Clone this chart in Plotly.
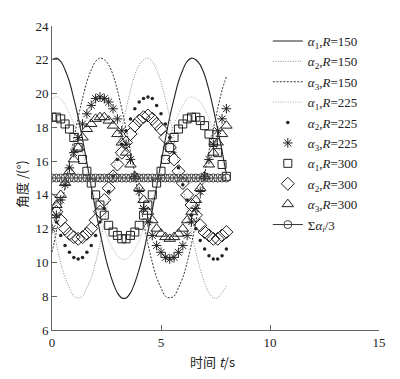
import plotly.graph_objects as go

t = [0.0, 0.2, 0.4, 0.6, 0.8, 1.0, 1.2, 1.4, 1.6, 1.8, 2.0, 2.2, 2.4, 2.6, 2.8, 3.0,
     3.2, 3.4, 3.6, 3.8, 4.0, 4.2, 4.4, 4.6, 4.8, 5.0, 5.2, 5.4, 5.6, 5.8, 6.0, 6.2,
     6.4, 6.6, 6.8, 7.0, 7.2, 7.4, 7.6, 7.8, 8.0]

a1_150 = [22.0, 22.1, 21.9, 21.4, 20.7, 19.7, 18.6, 17.3, 15.9, 14.5, 13.1, 11.8, 10.6, 9.6,
          8.8, 8.2, 7.9, 7.9, 8.2, 8.8, 9.6, 10.6, 11.8, 13.1, 14.5, 15.9, 17.3, 18.6, 19.7,
          20.7, 21.4, 21.9, 22.1, 22.0, 21.7, 21.1, 20.2, 19.1, 17.9, 16.6, 15.2]
a2_150 = [12.4, 11.1, 10.0, 9.1, 8.5, 8.0, 7.9, 8.0, 8.5, 9.1, 10.0, 11.1, 12.4, 13.8, 15.2,
          16.6, 17.9, 19.1, 20.2, 21.1, 21.7, 22.0, 22.1, 21.9, 21.4, 20.7, 19.7, 18.6, 17.3,
          15.9, 14.5, 13.1, 11.8, 10.6, 9.6, 8.8, 8.2, 7.9, 7.9, 8.2, 8.6]
a3_150 = [10.6, 11.8, 13.1, 14.5, 15.9, 17.3, 18.6, 19.7, 20.7, 21.4, 21.9, 22.1, 22.0, 21.7,
          21.1, 20.2, 19.1, 17.9, 16.6, 15.2, 13.8, 12.4, 11.1, 10.0, 9.1, 8.5, 8.0, 7.9, 8.0,
          8.5, 9.1, 10.0, 11.1, 12.4, 13.8, 15.2, 16.6, 17.9, 19.1, 20.2, 21.0]
a1_225 = [19.7, 19.8, 19.7, 19.3, 18.8, 18.2, 17.4, 16.5, 15.6, 14.6, 13.7, 12.8, 12.0, 11.3,
          10.8, 10.4, 10.2, 10.2, 10.4, 10.8, 11.3, 12.0, 12.8, 13.7, 14.6, 15.6, 16.5, 17.4,
          18.2, 18.8, 19.3, 19.7, 19.8, 19.7, 19.5, 19.1, 18.5, 17.8, 17.0, 16.1, 15.1]
a2_225 = [13.2, 12.4, 11.6, 11.0, 10.6, 10.3, 10.2, 10.3, 10.6, 11.0, 11.6, 12.4, 13.2, 14.2,
          15.1, 16.1, 17.0, 17.8, 18.5, 19.1, 19.5, 19.7, 19.8, 19.7, 19.3, 18.8, 18.2, 17.4,
          16.5, 15.6, 14.6, 13.7, 12.8, 12.0, 11.3, 10.8, 10.4, 10.2, 10.2, 10.4, 10.8]
a3_225 = [12.0, 12.8, 13.7, 14.6, 15.6, 16.5, 17.4, 18.2, 18.8, 19.3, 19.7, 19.8, 19.7, 19.5,
          19.1, 18.5, 17.8, 17.0, 16.1, 15.1, 14.2, 13.2, 12.4, 11.6, 11.0, 10.6, 10.3, 10.2,
          10.3, 10.6, 11.0, 11.6, 12.4, 13.2, 14.2, 15.1, 16.1, 17.0, 17.8, 18.5, 19.1]
a1_300 = [18.6, 18.6, 18.5, 18.2, 17.9, 17.4, 16.8, 16.1, 15.4, 14.7, 14.0, 13.4, 12.8, 12.2,
          11.8, 11.6, 11.4, 11.4, 11.6, 11.8, 12.2, 12.8, 13.4, 14.0, 14.7, 15.4, 16.1, 16.8,
          17.4, 17.9, 18.2, 18.5, 18.6, 18.6, 18.4, 18.1, 17.6, 17.1, 16.5, 15.8, 15.1]
a2_300 = [13.7, 13.0, 12.5, 12.0, 11.7, 11.5, 11.4, 11.5, 11.7, 12.0, 12.5, 13.0, 13.7, 14.4,
          15.1, 15.8, 16.5, 17.1, 17.6, 18.1, 18.4, 18.6, 18.7, 18.5, 18.2, 17.9, 17.4, 16.8,
          16.1, 15.4, 14.7, 14.0, 13.4, 12.8, 12.2, 11.8, 11.6, 11.4, 11.4, 11.6, 11.8]
a3_300 = [12.8, 13.4, 14.0, 14.7, 15.4, 16.1, 16.8, 17.4, 17.9, 18.2, 18.5, 18.6, 18.6, 18.4,
          18.1, 17.6, 17.1, 16.5, 15.8, 15.1, 14.4, 13.7, 13.0, 12.5, 12.0, 11.7, 11.5, 11.4,
          11.5, 11.7, 12.0, 12.5, 13.0, 13.7, 14.4, 15.1, 15.8, 16.5, 17.1, 17.6, 18.1]
mean_a = [15.0, 15.0, 15.0, 15.0, 15.0, 15.0, 15.0, 15.0, 15.0, 15.0, 15.0, 15.0, 15.0, 15.0,
          15.0, 15.0, 15.0, 15.0, 15.0, 15.0, 15.0, 15.0, 15.0, 15.0, 15.0, 15.0, 15.0, 15.0,
          15.0, 15.0, 15.0, 15.0, 15.0, 15.0, 15.0, 15.0, 15.0, 15.0, 15.0, 15.0, 15.0]

names = [
    "<i>α</i><sub>1</sub>,<i>R</i>=150",
    "<i>α</i><sub>2</sub>,<i>R</i>=150",
    "<i>α</i><sub>3</sub>,<i>R</i>=150",
    "<i>α</i><sub>1</sub>,<i>R</i>=225",
    "<i>α</i><sub>2</sub>,<i>R</i>=225",
    "<i>α</i><sub>3</sub>,<i>R</i>=225",
    "<i>α</i><sub>1</sub>,<i>R</i>=300",
    "<i>α</i><sub>2</sub>,<i>R</i>=300",
    "<i>α</i><sub>3</sub>,<i>R</i>=300",
    "Σ<i>α</i><sub><i>i</i></sub>/3",
]
x_ticks = [0, 5, 10, 15]
y_ticks = [6, 8, 10, 12, 14, 16, 18, 20, 22, 24]

fig = go.Figure()

def line_trace(y, name, color, dash, width=1.0):
    fig.add_trace(go.Scatter(x=t, y=y, name=name, mode="lines", legendgroup=name,
                             line=dict(color=color, dash=dash, width=width, shape="spline")))

def marker_trace(y, name, symbol, size, lw=1.0, color="#222"):
    fig.add_trace(go.Scatter(x=t, y=y, name=name, mode="markers", legendgroup=name,
                             marker=dict(symbol=symbol, size=size, color=color,
                                         line=dict(color=color, width=lw))))

line_trace(a1_150, names[0], "#222", "solid", 1.1)
line_trace(a2_150, names[1], "#888", "1px,1.5px", 1.0)
line_trace(a3_150, names[2], "#333", "2px,1.5px", 1.0)
line_trace(a1_225, names[3], "#aaa", "1px,1.5px", 1.0)
marker_trace(a3_225, names[5], "asterisk-open", 8, 1.0)
marker_trace(a1_300, names[6], "square-open", 8, 1.0)
marker_trace(a2_300, names[7], "diamond-open", 10, 1.0)
marker_trace(a3_300, names[8], "triangle-up-open", 10, 1.0)
marker_trace(a2_225, names[4], "circle", 3.5, 0)
fig.add_trace(go.Scatter(x=t, y=mean_a, name=names[9], mode="lines+markers", legendgroup=names[9],
                         line=dict(color="#333", width=1.0),
                         marker=dict(symbol="circle-open", size=8, color="#444",
                                     line=dict(color="#444", width=1.0))))

order = {n: i for i, n in enumerate(names)}
for tr in fig.data:
    tr.legendrank = order[tr.name]

axis_font = dict(family="Liberation Serif", size=13, color="#222")
fig.update_xaxes(range=[0, 15], tickvals=x_ticks, ticks="inside", ticklen=5, tickcolor="#666",
                 showline=True, linecolor="#666", linewidth=1, showgrid=False, zeroline=False,
                 tickfont=axis_font)
fig.update_yaxes(range=[6, 24], tickvals=y_ticks, ticks="inside", ticklen=5, tickcolor="#666",
                 showline=True, linecolor="#666", linewidth=1, showgrid=False, zeroline=False,
                 tickfont=axis_font)

# page body has an 8px margin, so the figure is shrunk and shifted accordingly
fig.update_layout(
    width=392, height=371,
    margin=dict(l=44, r=21, t=11, b=49),
    plot_bgcolor="white", paper_bgcolor="white",
    legend=dict(x=0.66, y=1.0, xanchor="left", yanchor="top", bgcolor="rgba(0,0,0,0)",
                font=dict(family="Liberation Serif", size=13, color="#222"),
                tracegroupgap=0.5, itemwidth=30),
    annotations=[
        dict(text="时间 <i>t</i>/s", xref="paper", yref="paper", x=0.492, y=-0.103,
             showarrow=False, font=dict(family="Noto Sans CJK SC", size=13, color="#222"),
             xanchor="center", yanchor="middle"),
        dict(text="角度 /(°)", xref="paper", yref="paper", x=-0.095, y=0.48,
             showarrow=False, textangle=-90,
             font=dict(family="Noto Sans CJK SC", size=13, color="#222"),
             xanchor="center", yanchor="middle"),
    ],
)

fig.write_html("out.html")
